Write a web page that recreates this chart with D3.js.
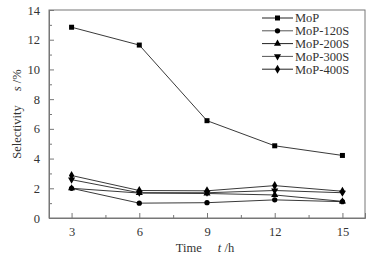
<!DOCTYPE html>
<html><head><meta charset="utf-8">
<script src="https://cdn.jsdelivr.net/npm/d3@7"></script>
<style>body{margin:0;background:#fff}svg{display:block}text{font-family:"Liberation Serif","Times New Roman",serif;fill:#333}</style>
</head><body><svg id="c" width="382" height="258"></svg>
<script>
const times = [3, 6, 9, 12, 15];
const seriesNames = ["MoP", "MoP-120S", "MoP-200S", "MoP-300S", "MoP-400S"];
const mop     = [12.84, 11.64, 6.55, 4.86, 4.21];
const mop120S = [2.0, 1.0, 1.03, 1.22, 1.1];
const mop200S = [2.0, 1.68, 1.65, 1.55, 1.12];
const mop300S = [2.58, 1.7, 1.7, 1.85, 1.7];
const mop400S = [2.86, 1.85, 1.83, 2.18, 1.8];
const yTicks = [0, 2, 4, 6, 8, 10, 12, 14];
const xTicks = [3, 6, 9, 12, 15];
const symbols = [d3.symbolSquare, d3.symbolCircle, d3.symbolTriangle, "down", d3.symbolDiamond];

const allSeries = [mop, mop120S, mop200S, mop300S, mop400S];
const svg = d3.select("#c");
const L = 49, R = 365, T = 10, B = 218;
const x = d3.scaleLinear().domain([2, 16]).range([L, R]);
const y = d3.scaleLinear().domain([0, 14]).range([B, T]);
const frame = "#777";
const txt = "#333";

// frame
svg.append("rect").attr("x", L).attr("y", T).attr("width", R - L).attr("height", B - T)
  .attr("fill", "none").attr("stroke", frame).attr("stroke-width", 1);

// axes with inward ticks
const yAxis = d3.axisLeft(y).tickValues(yTicks).tickSize(-5).tickPadding(9);
const gy = svg.append("g").attr("transform", `translate(${L},0)`).call(yAxis);
gy.select(".domain").attr("stroke", frame);
gy.selectAll(".tick line").attr("stroke", frame);
gy.selectAll("text").attr("font-size", 12.5).attr("font-family", "Liberation Serif").attr("fill", txt);
const yMinor = d3.axisLeft(y).tickValues(d3.range(1, 14, 2)).tickSize(-3).tickFormat("");
const gym = svg.append("g").attr("transform", `translate(${L},0)`).call(yMinor);
gym.select(".domain").remove(); gym.selectAll("line").attr("stroke", frame);

const xAxis = d3.axisBottom(x).tickValues(xTicks).tickSize(-5).tickPadding(9);
const gx = svg.append("g").attr("transform", `translate(0,${B})`).call(xAxis);
gx.select(".domain").attr("stroke", frame);
gx.selectAll(".tick line").attr("stroke", frame);
gx.selectAll("text").attr("font-size", 12.5).attr("font-family", "Liberation Serif").attr("fill", txt);
const xMinor = d3.axisBottom(x).tickValues([4.5, 7.5, 10.5, 13.5]).tickSize(-3).tickFormat("");
const gxm = svg.append("g").attr("transform", `translate(0,${B})`).call(xMinor);
gxm.select(".domain").remove(); gxm.selectAll("line").attr("stroke", frame);

// axis titles
const yt = svg.append("text").attr("transform", `translate(21,${(T + B) / 2}) rotate(-90)`)
  .attr("text-anchor", "middle").attr("font-size", 12.5);
yt.append("tspan").text("Selectivity");
yt.append("tspan").attr("dx", 14).attr("font-style", "italic").text("s");
yt.append("tspan").text(" /%");
const xt = svg.append("text").attr("x", 205).attr("y", 252).attr("text-anchor", "middle").attr("font-size", 12.5);
xt.append("tspan").text("Time");
xt.append("tspan").attr("dx", 16).attr("font-style", "italic").text("t");
xt.append("tspan").text(" /h");

function marker(g, i, cx, cy) {
  const s = symbols[i];
  if (s === "down") {
    g.append("path").attr("d", d3.symbol(d3.symbolTriangle, 22)())
      .attr("transform", `translate(${cx},${cy}) rotate(180)`).attr("fill", "#000");
  } else {
    const size = s === d3.symbolSquare ? 25 : (s === d3.symbolDiamond ? 24 : 22);
    g.append("path").attr("d", d3.symbol(s, size)())
      .attr("transform", `translate(${cx},${cy})`).attr("fill", "#000");
  }
}

const line = d3.line().x((d, i) => x(times[i])).y(d => y(d));
allSeries.forEach((vals, si) => {
  const g = svg.append("g");
  g.append("path").attr("d", line(vals)).attr("fill", "none").attr("stroke", "#222").attr("stroke-width", 0.9);
  vals.forEach((v, i) => marker(g, si, x(times[i]), y(v)));
});

// legend
seriesNames.forEach((name, i) => {
  const ly = 18 + i * 12.8;
  const g = svg.append("g");
  g.append("line").attr("x1", 262).attr("x2", 293).attr("y1", ly).attr("y2", ly)
    .attr("stroke", i % 2 === 1 ? "#555" : "#222").attr("stroke-width", 1);
  marker(g, i, 277.5, ly);
  g.append("text").attr("x", 295).attr("y", ly + 4.3).attr("font-size", 12.5).text(name);
});
</script></body></html>
